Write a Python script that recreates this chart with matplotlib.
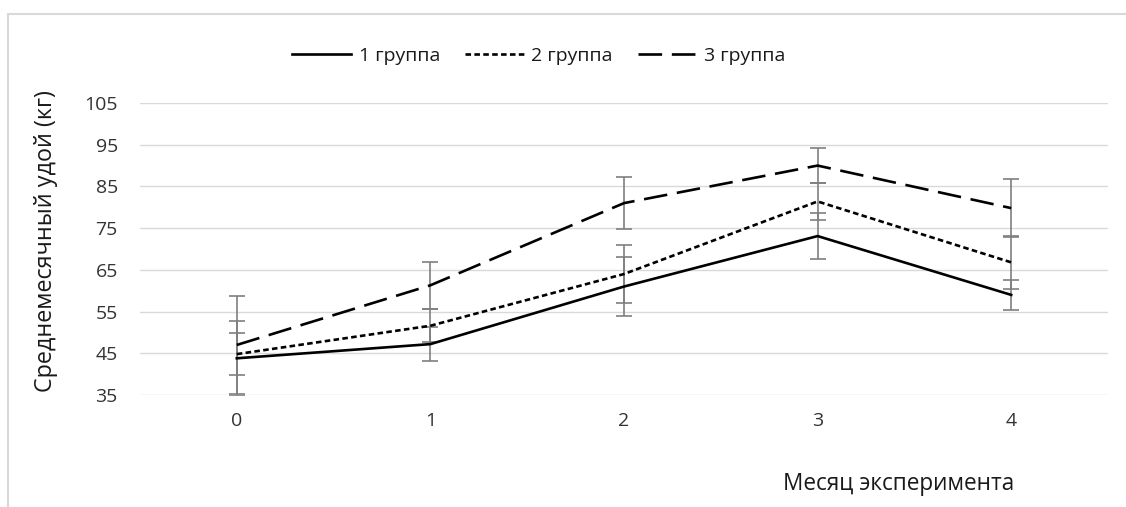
import matplotlib
matplotlib.use('Agg')
import matplotlib.pyplot as plt
from matplotlib.patches import Rectangle
import numpy as np

plt.rcParams['font.family'] = ['Open Sans', 'DejaVu Sans']
plt.rcParams['lines.scale_dashes'] = False

months = [0, 1, 2, 3, 4]
group_names = ['1 группа', '2 группа', '3 группа']

g1 = [43.8, 47.2, 61.0, 73.1, 59.0]
g1_err = [9.0, 4.0, 7.0, 5.6, 3.6]
g2 = [44.8, 51.6, 64.0, 81.4, 66.8]
g2_err = [5.0, 4.0, 7.0, 4.4, 6.3]
g3 = [47.0, 61.3, 81.0, 90.0, 79.8]
g3_err = [11.7, 5.7, 6.2, 4.2, 7.0]

yticks = [35, 45, 55, 65, 75, 85, 95, 105]

W, H = 1126, 507
fig = plt.figure(figsize=(W/100, H/100), dpi=100)
# chart frame (Excel style, runs off right/bottom edge)
fig.patches.append(Rectangle((8/W, -0.1), 1.2, 1 - 14/H + 0.1,
                             transform=fig.transFigure, fill=False,
                             edgecolor='#d9d9d9', lw=1.5))

ax = fig.add_axes([140/W, 1 - 395/H, 968/W, 292/H])

styles = [
    dict(ls='-'),
    dict(dashes=(4.0, 2.4)),
    dict(dashes=(17, 7)),
]
series = [(g1, g1_err), (g2, g2_err), (g3, g3_err)]

for (vals, err), st, name in zip(series, styles, group_names):
    ax.errorbar(months, vals, yerr=err, fmt='none', ecolor='#7f7f7f',
                elinewidth=1.2, capsize=5.5, capthick=1.2, zorder=2)
    ax.plot(months, vals, color='black', lw=1.9, label=name, zorder=3, **st)

ax.set_xlim(-0.5, 4.5)
ax.set_ylim(35, 105)
ax.set_yticks(yticks)
ax.set_xticks(months)
ax.grid(axis='y', color='#d9d9d9', lw=1)
ax.set_axisbelow(True)
for s in ax.spines.values():
    s.set_visible(False)
ax.tick_params(length=0, labelsize=14, labelcolor='#333333')
ax.tick_params(axis='y', pad=16)
ax.tick_params(axis='x', pad=12)

fig.text(46/W, 1 - 241/H, 'Среднемесячный удой (кг)', fontsize=16.8,
         color='#1a1a1a', rotation=90, ha='center', va='center')
fig.text(899/W, 1 - 484/H, 'Месяц эксперимента', fontsize=16.3,
         color='#1a1a1a', ha='center', va='center')

fig.legend(loc='center', bbox_to_anchor=(539/W, 1 - 56/H), ncol=3,
           frameon=False, fontsize=14, handlelength=3.0, handletextpad=0.4,
           columnspacing=1.3, labelcolor='#1a1a1a')

fig.savefig('out.png', dpi=100)
